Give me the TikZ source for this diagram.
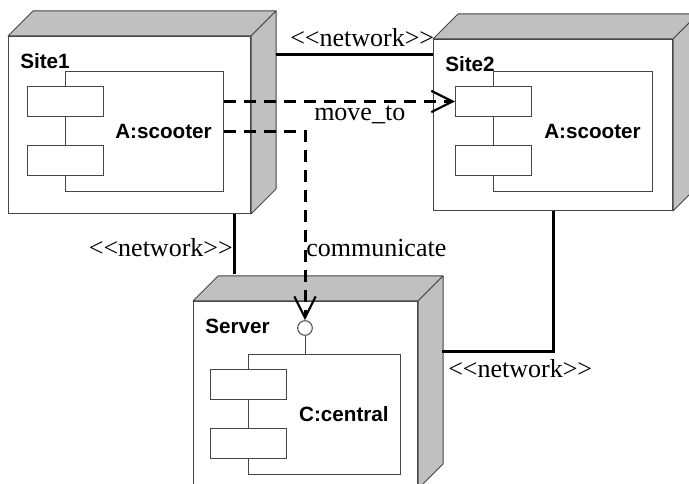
\documentclass[tikz,border=0pt]{standalone}
\usepackage{fontspec}
\setmainfont{Liberation Serif}
\newfontfamily\namefont{Liberation Sans}
\usetikzlibrary{arrows.meta}
\definecolor{facegray}{RGB}{192,192,192}
\definecolor{edgegray}{RGB}{70,70,70}
\tikzset{
  device/.style={draw=edgegray, fill=white, line width=0.75pt, inner sep=0pt, anchor=north west},
  face/.style={draw=edgegray, fill=facegray, line width=0.75pt, line join=round},
  comp/.style={draw=edgegray, fill=white, line width=0.75pt, inner sep=0pt, anchor=north west},
  port/.style={comp, minimum width=76*0.75pt, minimum height=30*0.75pt},
  devname/.style={font=\namefont\bfseries\fontsize{15.5}{18}\selectfont, inner sep=0pt},
  lbl/.style={font=\fontsize{19.5}{23}\selectfont, inner sep=0pt},
  network/.style={line width=2.25pt},
  msg/.style={line width=2.25pt, dash pattern=on 9pt off 6pt,
    -{Straight Barb[length=16pt,width=16pt,line width=1.6pt]}},
}
\begin{document}
\begin{tikzpicture}[x=0.75pt,y=-0.75pt]
  \useasboundingbox (0,0) rectangle (689,484);
  % nodes
  \foreach \d/\x/\y/\w/\h/\t in {site1/8/36/242/177/Site1, site2/433/39/239/171/Site2, server/193/301/224/187/Server} {
    \node[device, minimum width=\w*0.75pt, minimum height=\h*0.75pt] (\d) at (\x,\y) {};
    \filldraw[face] (\d.north west) -- ++(25,-25) -- ([shift={(25,-25)}]\d.north east) -- (\d.north east) -- cycle;
    \filldraw[face] (\d.north east) -- ++(25,-25) -- ([shift={(25,-25)}]\d.south east) -- (\d.south east) -- cycle;
    \node[devname, anchor=west] (\d-name) at ([shift={(12,25)}]\d.north west) {\t};
  }
  % components
  \foreach \c/\x/\y/\w/\t in {comp1/65/71/158/A:scooter, comp2/493/71/159/A:scooter, comp3/248/354/152/C:central} {
    \node[comp, minimum width=\w*0.75pt, minimum height=120*0.75pt] (\c) at (\x,\y) {};
    \node[port] (\c-a) at ([shift={(-38,15)}]\c.north west) {};
    \node[port] (\c-b) at ([shift={(-38,74)}]\c.north west) {};
    \node[devname, anchor=east] (\c-name) at ([shift={(-12,0)}]\c.east) {\t};
  }
  % interface
  \node[circle, draw=edgegray, fill=white, line width=0.75pt, minimum size=11pt, inner sep=0pt] (iface) at (305,328) {};
  \draw[edgegray, line width=0.75pt] (iface.south) -- (iface.south |- comp3.north);
  % network links
  \draw[network] ([shift={(25,19)}]site1.north east) coordinate (n1) -- (n1 -| site2.west);
  \node[lbl, anchor=base west] (n1-lbl) at ([shift={(14,-8)}]n1) {<{}<network>{}>};
  \draw[network] ([shift={(41,-27)}]server.north west) coordinate (n2) -- (n2 |- site1.south);
  \node[lbl, anchor=base east] (n2-lbl) at ([shift={(-1,-17)}]n2) {<{}<network>{}>};
  \draw[network] (site2.south) |- ([shift={(24,51)}]server.north east) coordinate (n3);
  \node[lbl, anchor=base west] (n3-lbl) at ([shift={(6,26)}]n3) {<{}<network>{}>};
  % messages
  \draw[msg] (comp1.east |- comp2-a.west) coordinate (m1) -- (comp2-a.west);
  \node[lbl, anchor=base west] (m1-lbl) at ([shift={(90,19)}]m1) {move\_to};
  \draw[msg] (comp1.east) -| (iface.north) coordinate (m2);
  \node[lbl, anchor=base west] (m2-lbl) at ([shift={(1,-64)}]m2) {communicate};
\end{tikzpicture}
\end{document}
